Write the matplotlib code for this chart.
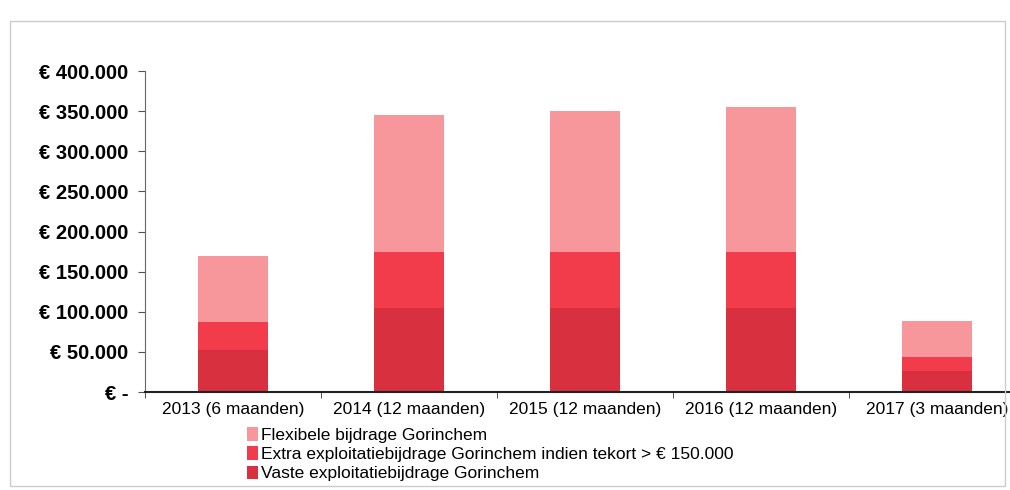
import matplotlib.pyplot as plt
from matplotlib.patches import Rectangle
import numpy as np

categories = ["2013 (6 maanden)", "2014 (12 maanden)", "2015 (12 maanden)",
              "2016 (12 maanden)", "2017 (3 maanden)"]
vaste = [52500, 105000, 105000, 105000, 26250]
extra = [35000, 70000, 70000, 70000, 17500]
flexibel = [82500, 170000, 175000, 180000, 45000]

labels = ["Flexibele bijdrage Gorinchem",
          "Extra exploitatiebijdrage Gorinchem indien tekort > € 150.000",
          "Vaste exploitatiebijdrage Gorinchem"]
colors = {"flex": "#F7979C", "extra": "#F23C4C", "vaste": "#D8303F"}

yticks = [0, 50000, 100000, 150000, 200000, 250000, 300000, 350000, 400000]


def euro(v):
    if v == 0:
        return "€ -"
    return "€ " + f"{v:,.0f}".replace(",", ".")


narrow = ["Liberation Sans Narrow", "Liberation Sans", "DejaVu Sans"]

fig = plt.figure(figsize=(10.1, 4.9), dpi=100)
ax = fig.add_axes([0.1436, 0.2, 0.871, 0.655])

x = np.arange(len(categories))
w = 0.4
b1 = ax.bar(x, vaste, w, color=colors["vaste"], label=labels[2])
b2 = ax.bar(x, extra, w, bottom=vaste, color=colors["extra"], label=labels[1])
bottom2 = np.array(vaste) + np.array(extra)
b3 = ax.bar(x, flexibel, w, bottom=bottom2, color=colors["flex"], label=labels[0])

ax.set_xlim(-0.5, len(categories) - 0.5)
ax.set_ylim(0, 400000)
ax.set_yticks(yticks)
ax.set_yticklabels([euro(v) for v in yticks], fontsize=14.5, fontweight="bold",
                   family=["Liberation Sans", "DejaVu Sans"])
ax.tick_params(axis="y", length=5, color="#555555", pad=7)

ax.set_xticks(x)
ax.set_xticklabels(categories, fontsize=12.5, family=narrow)
ax.tick_params(axis="x", which="major", length=0, pad=7)
ax.set_xticks(np.arange(len(categories) + 1) - 0.5, minor=True)
ax.tick_params(axis="x", which="minor", length=4, color="#333333")

for s in ["top", "right"]:
    ax.spines[s].set_visible(False)
ax.spines["left"].set_color("#666666")
ax.spines["bottom"].set_color("#222222")
ax.spines["bottom"].set_linewidth(1.5)

fig.legend(handles=[b3, b2, b1], labels=labels, loc="upper left",
           bbox_to_anchor=(0.245, 0.128), frameon=False,
           prop={"family": narrow, "size": 12.5},
           handlelength=0.6, handleheight=0.8, handletextpad=0.2,
           labelspacing=0.2, borderpad=0, borderaxespad=0)

fig.patches.append(Rectangle((0.01, 0.008), 0.985, 0.95, transform=fig.transFigure,
                             fill=False, edgecolor="#cccccc", linewidth=1))

fig.savefig("out.png", dpi=100)
